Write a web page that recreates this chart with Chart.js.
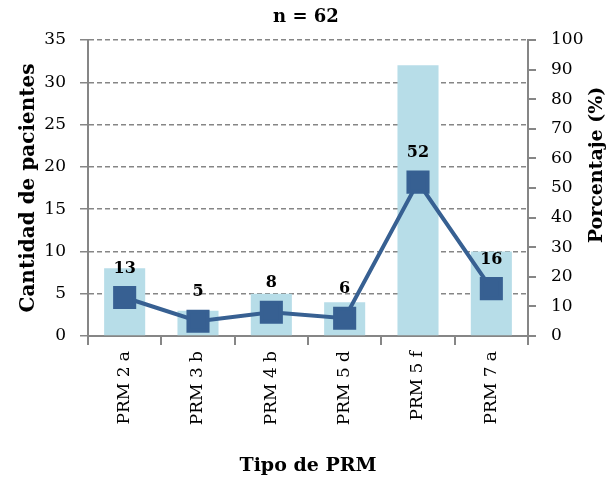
<!DOCTYPE html>
<html>
<head>
<meta charset="utf-8">
<script src="https://cdn.jsdelivr.net/npm/chart.js@4.4.1/dist/chart.umd.min.js"></script>
<style>
	html, body { margin: 0; padding: 0; background: #fff; }
	#wrap { width: 611px; height: 480px; }
</style>
</head>
<body>
<div id="wrap"><canvas id="chart" width="611" height="480"></canvas></div>
<script>
// datos del grafico
const categorias = ['PRM 2 a', 'PRM 3 b', 'PRM 4 b', 'PRM 5 d', 'PRM 5 f', 'PRM 7 a'];
const pacientes = [8, 3, 5, 4, 32, 10];
const porcentajes = [13, 5, 8, 6, 52, 16];
const titulo = 'n = 62';
const tituloX = 'Tipo de PRM';
const tituloY = 'Cantidad de pacientes';
const tituloY2 = 'Porcentaje (%)';

const FONT = '"DejaVu Serif", "Liberation Serif", serif';
const GRIS = '#868686';

// titulos y etiquetas dibujados a mano
const textos = {
	id: 'textos',
	afterDatasetsDraw(chart) {
		const ctx = chart.ctx;
		const area = chart.chartArea;
		ctx.save();
		ctx.fillStyle = '#000';
		ctx.textAlign = 'center';
		ctx.textBaseline = 'middle';

		// etiquetas del porcentaje
		ctx.font = 'bold 16px ' + FONT;
		const meta = chart.getDatasetMeta(1);
		meta.data.forEach((pt, i) => {
			ctx.fillText(String(porcentajes[i]), pt.x, pt.y - 29);
		});

		ctx.font = 'bold 18px ' + FONT;
		ctx.fillText(titulo, 306, 17);

		ctx.font = 'bold 19px ' + FONT;
		ctx.fillText(tituloX, 308, 466);

		ctx.save();
		ctx.font = 'bold 20px ' + FONT;
		ctx.translate(29, (area.top + area.bottom) / 2);
		ctx.rotate(-Math.PI / 2);
		ctx.fillText(tituloY, 0, 0);
		ctx.restore();

		ctx.save();
		ctx.font = 'bold 19px ' + FONT;
		ctx.translate(597, (area.top + area.bottom) / 2 - 23);
		ctx.rotate(-Math.PI / 2);
		ctx.fillText(tituloY2, 0, 0);
		ctx.restore();

		ctx.restore();
	}
};

new Chart(document.getElementById('chart'), {
	data: {
		labels: categorias,
		datasets: [
			{
				type: 'bar',
				data: pacientes,
				yAxisID: 'y',
				backgroundColor: '#b7dde8',
				barPercentage: 0.56,
				categoryPercentage: 1,
				order: 2,
			},
			{
				type: 'line',
				data: porcentajes,
				yAxisID: 'y1',
				borderColor: '#376092',
				backgroundColor: '#376092',
				borderWidth: 4,
				pointStyle: 'rect',
				pointRadius: 13.5,
				pointHoverRadius: 13.5,
				order: 1,
			},
		]
	},
	options: {
		responsive: false,
		animation: false,
		layout: { padding: { top: 40, left: 0, right: 0, bottom: 0 } },
		plugins: {
			legend: { display: false },
			tooltip: { enabled: false },
		},
		scales: {
			x: {
				grid: { offset: true, drawOnChartArea: false, drawTicks: true, tickLength: 9, color: GRIS, lineWidth: 2 },
				border: { color: GRIS, width: 2 },
				ticks: {
					minRotation: 90, maxRotation: 90, color: '#000', padding: 6,
					font: { family: FONT, size: 17 },
				},
				afterFit(scale) { scale.height = 144; },
			},
			y: {
				position: 'left',
				min: 0, max: 35,
				ticks: { stepSize: 5, color: '#000', padding: 14, font: { family: FONT, size: 17 } },
				grid: { color: GRIS, lineWidth: 1.5, tickLength: 8 },
				border: { color: GRIS, width: 2, dash: [5, 3] },
				afterFit(scale) { scale.width = 88; },
			},
			y1: {
				position: 'right',
				min: 0, max: 100,
				ticks: { stepSize: 10, color: '#000', padding: 15, font: { family: FONT, size: 17 } },
				grid: { drawOnChartArea: false, color: GRIS, lineWidth: 2, tickLength: 8 },
				border: { color: GRIS, width: 2 },
				afterFit(scale) { scale.width = 83; },
			},
		}
	},
	plugins: [textos],
});
</script>
</body>
</html>
